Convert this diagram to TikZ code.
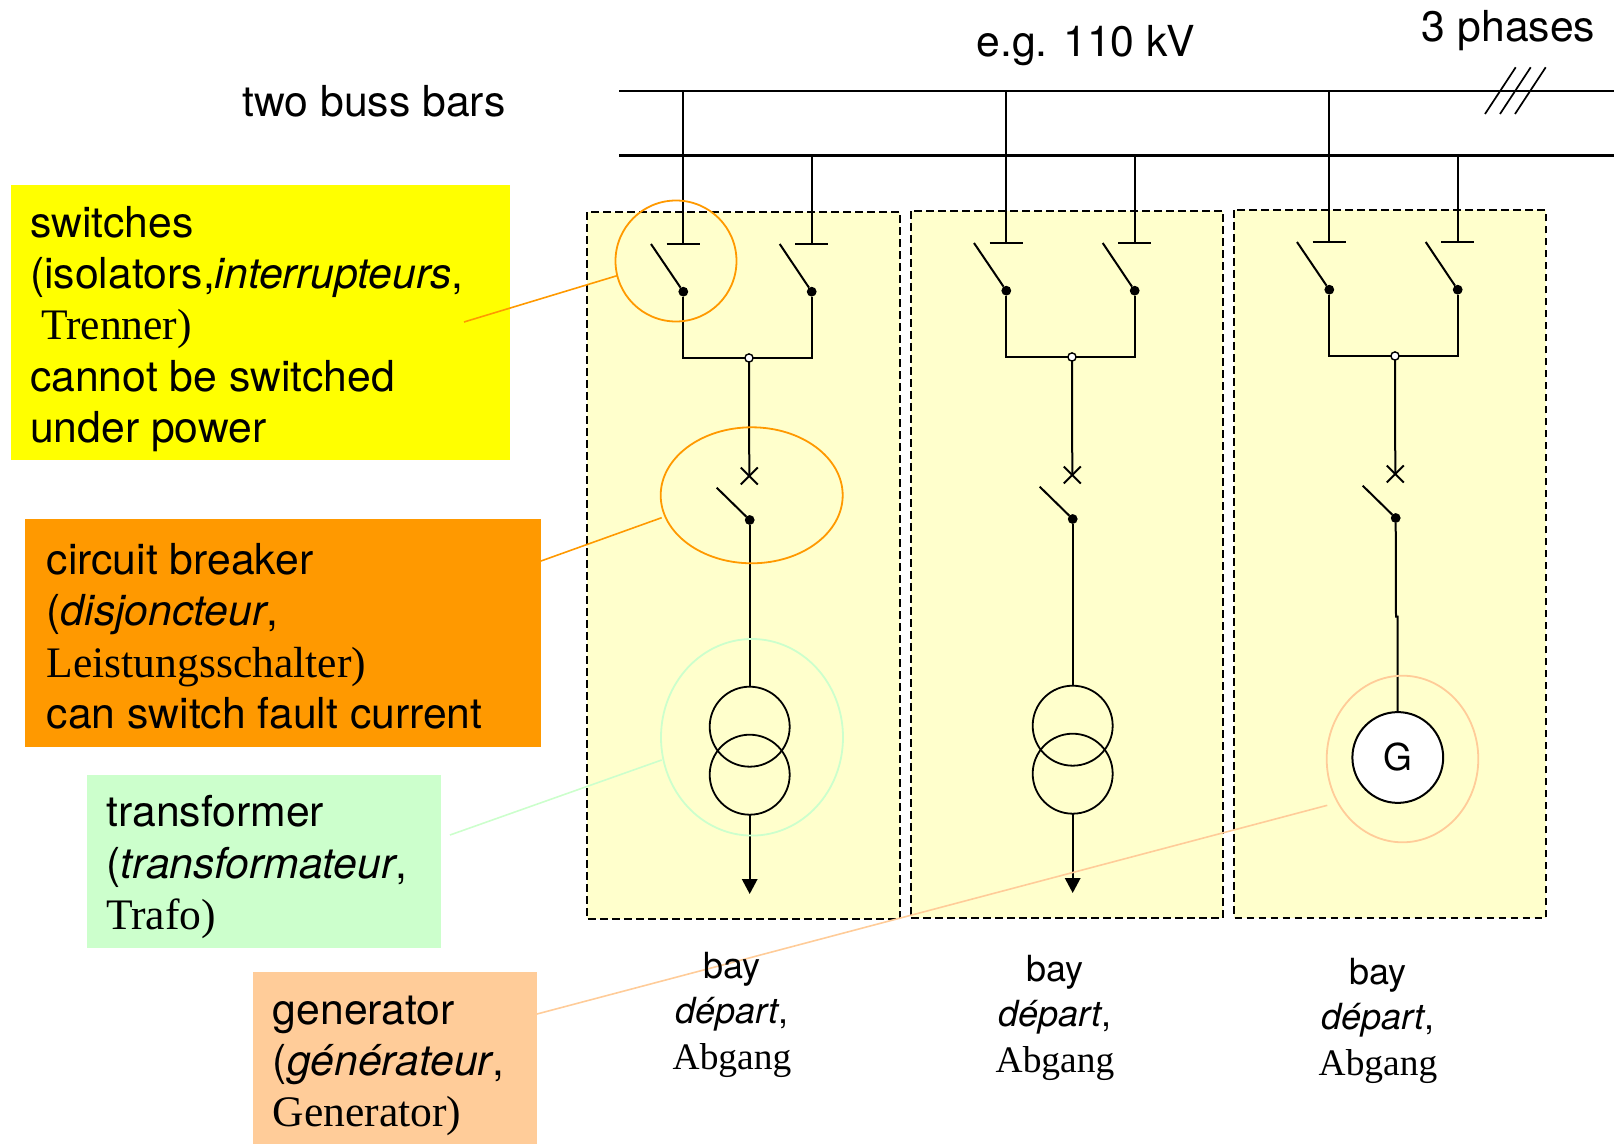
\documentclass[tikz,border=0pt]{standalone}
\usepackage{fontspec}
\setmainfont{TeX Gyre Heros}
\newfontfamily\serifface[Scale=1.02]{Liberation Serif}
\newfontfamily\serifsmall[Scale=1.04]{Liberation Serif}
\usetikzlibrary{shapes.geometric,arrows.meta,calc}
\definecolor{swyellow}{HTML}{FFFF00}
\definecolor{cborange}{HTML}{FF9900}
\definecolor{trgreen}{HTML}{CCFFCC}
\definecolor{genpeach}{HTML}{FFCC99}
\definecolor{baycream}{HTML}{FFFFCC}
\tikzset{
  wire/.style={line width=1pt,black},
  thinwire/.style={line width=0.85pt,black},
  bus/.style={line width=1.05pt,black},
  heavybus/.style={line width=1.35pt,black},
  baybox/.style={fill=baycream,draw=black,line width=1pt,dash pattern=on 3.8pt off 2.2pt},
  blackdot/.style={circle,fill=black,draw=none,minimum size=4.9pt,inner sep=0pt,outer sep=0pt},
  opendot/.style={circle,fill=white,draw=black,line width=0.7pt,minimum size=4.1pt,inner sep=0pt,outer sep=0pt},
  coilring/.style={circle,draw=black,line width=0.9pt,minimum size=40pt,inner sep=0pt,outer sep=0pt},
  genring/.style={circle,draw=black,fill=white,line width=1pt,minimum size=45.4pt,inner sep=0pt,outer sep=0pt,font=\fontsize{18.5}{22}\selectfont},
  noteRing/.style={ellipse,draw=#1,line width=0.9pt,inner sep=0pt,outer sep=0pt},
  noteline/.style={line width=0.8pt,draw=#1},
  notebox/.style={rectangle,fill=#1,anchor=north west,inner sep=0pt,outer sep=0pt},
  notetext/.style={anchor=west,align=left,inner sep=0pt,font=\fontsize{21.35}{25.6}\selectfont},
  headline/.style={anchor=base west,inner sep=0pt,font=\fontsize{21.35}{25.75}\selectfont},
  baylabel/.style={anchor=north,align=center,inner sep=0pt,font=\fontsize{18}{22.6}\selectfont},
  gridtip/.style={-{Triangle[width=7.6pt,length=7.4pt]}},
}
\newcommand{\switchbay}[3]{%
  \begin{scope}[shift={(#2,#3)}]
    \coordinate (#1ta) at (683.3,244);
    \coordinate (#1tb) at (811.7,244);
    \coordinate (#1bla) at (651,244);
    \coordinate (#1blb) at (779.7,244);
    \node[blackdot] (#1da) at (683.3,291.7) {};
    \node[blackdot] (#1db) at (811.7,291.7) {};
    \coordinate (#1ca) at (683.3,358);
    \coordinate (#1cb) at (811.7,358);
    \node[opendot] (#1j) at (749,358) {};
    \coordinate (#1x) at (749.3,476);
    \coordinate (#1blc) at (716.7,487.7);
    \node[blackdot] (#1dc) at (749.7,520) {};
    \draw[wire] (#1ta |- busAw) -- (#1ta);
    \draw[wire] (#1tb |- busBw) -- (#1tb);
    \draw[thinwire] ($(#1ta)+(-16.7,0)$) -- ($(#1ta)+(16.7,0)$);
    \draw[thinwire] ($(#1tb)+(-16.7,0)$) -- ($(#1tb)+(16.7,0)$);
    \draw[wire] (#1bla) -- (#1da);
    \draw[wire] (#1blb) -- (#1db);
    \draw[wire] (#1da) -- (#1ca) -- (#1j);
    \draw[wire] (#1db) -- (#1cb) -- (#1j);
    \draw[wire] (#1j) -- (#1x);
    \draw[wire] ($(#1x)+(-8.5,-8.5)$) -- ($(#1x)+(8.5,8.5)$);
    \draw[wire] ($(#1x)+(-8.5,8.5)$) -- ($(#1x)+(8.5,-8.5)$);
    \draw[wire] (#1blc) -- (#1dc);
  \end{scope}}
\newcommand{\transformerbay}[3]{%
  \begin{scope}[shift={(#2,#3)}]
    \node[coilring] (#1up) at (749.7,726.7) {};
    \node[coilring] (#1lo) at (749.7,774.7) {};
    \coordinate (#1end) at (749.7,894);
    \draw[wire] (#1dc) -- (#1up);
    \draw[wire,gridtip] (#1lo) -- (#1end);
  \end{scope}}
\begin{document}
\begin{tikzpicture}[x=0.5pt,y=-0.5pt]
\useasboundingbox (0,0) rectangle (1614,1144);
% bays
\draw[baybox] (587.3,212.3) rectangle (900,919.3);
\draw[baybox] (910.7,211) rectangle (1223,918.3);
\draw[baybox] (1234,210.3) rectangle (1546,917.7);
% bus bars
\coordinate (busAw) at (619,91);
\coordinate (busAe) at (1614,91);
\coordinate (busBw) at (619,155.5);
\coordinate (busBe) at (1614,155.5);
\coordinate (busBm) at (1458,155.5);
\draw[bus] (busAw) -- (busAe);
\draw[bus] (busBm) -- (busBe);
\draw[heavybus] (busBw) -- (busBm);
% three-phase hash
\foreach \hx in {0,15,30}{
  \draw[thinwire] ($(1485,114)+(\hx,0)$) -- ($(1515.7,67.3)+(\hx,0)$);
}
% circuits
\switchbay{p}{0}{0}
\transformerbay{p}{0}{0}
\switchbay{q}{323}{-1}
\transformerbay{q}{323}{-1}
\switchbay{r}{646}{-2}
\node[genring] (rgen) at (1397.8,757.5) {G};
\coordinate (rjog) at (1396,616.7);
\coordinate (rjoh) at (1397.7,616.7);
\draw[wire] (rdc) -- (rjog) -- (rjoh) -- (rjoh |- rgen.north);
% note rings
\node[noteRing=cborange,minimum width=60.5pt,minimum height=60.5pt] (ringsw) at (676,261) {};
\node[noteRing=cborange,minimum width=91pt,minimum height=68pt] (ringcb) at (751.7,495.3) {};
\node[noteRing=trgreen,minimum width=91pt,minimum height=98.3pt] (ringtr) at (752,737.3) {};
\node[noteRing=genpeach,minimum width=75.8pt,minimum height=83.3pt] (ringgen) at (1402.5,759) {};
% boxes
\node[notebox=swyellow,minimum width=249.3pt,minimum height=137.4pt] (boxsw) at (11.3,185.3) {};
\node[notebox=cborange,minimum width=258.2pt,minimum height=114.2pt] (boxcb) at (24.7,519) {};
\node[notebox=trgreen,minimum width=177.2pt,minimum height=86.7pt] (boxtr) at (87,775) {};
\node[notebox=genpeach,minimum width=142pt,minimum height=85.8pt] (boxgen) at (253,972) {};
\node[notetext] (txtsw) at ($(boxsw.west)+(18.4,6.2)$) {switches\\(isolators,\textit{interrupteurs},\\\hspace*{5.5pt}{\serifface Trenner)}\\cannot be switched\\under power};
\node[notetext] (txtcb) at ($(boxcb.west)+(21.6,3)$) {circuit breaker\\(\textit{disjoncteur},\\{\serifface Leistungsschalter)}\\can switch fault current};
\node[notetext] (txttr) at ($(boxtr.west)+(19,5.5)$) {transformer\\(\textit{transformateur},\\{\serifface Trafo)}};
\node[notetext] (txtgen) at ($(boxgen.west)+(19.4,8)$) {generator\\(\textit{générateur},\\{\serifface Generator)}};
% leaders
\coordinate (leadsw) at (464,322);
\coordinate (leadcb) at (541,561);
\coordinate (leadtr) at (450,835);
\coordinate (leadgen) at (537,1014);
\coordinate (ringcbp) at (661.7,517.7);
\coordinate (ringtrp) at (661.7,760);
\coordinate (ringgenp) at (1327.3,805.3);
\draw[noteline=cborange] (ringsw.194) -- (leadsw);
\draw[noteline=cborange] (ringcbp) -- (leadcb);
\draw[noteline=trgreen] (ringtrp) -- (leadtr);
\draw[noteline=genpeach] (ringgenp) -- (leadgen);
% headings
\node[headline] (hbus) at (242,117) {two buss bars};
\node[headline] (hkv) at (976,57) {e.g. 110 kV};
\node[headline] (hph) at (1421.5,41.5) {3 phases};
% bay labels
\node[baylabel] (lbp) at (732,952) {bay\\\textit{départ},\\{\serifsmall Abgang}};
\node[baylabel] (lbq) at (1055,955) {bay\\\textit{départ},\\{\serifsmall Abgang}};
\node[baylabel] (lbr) at (1378,958) {bay\\\textit{départ},\\{\serifsmall Abgang}};
\end{tikzpicture}
\end{document}
